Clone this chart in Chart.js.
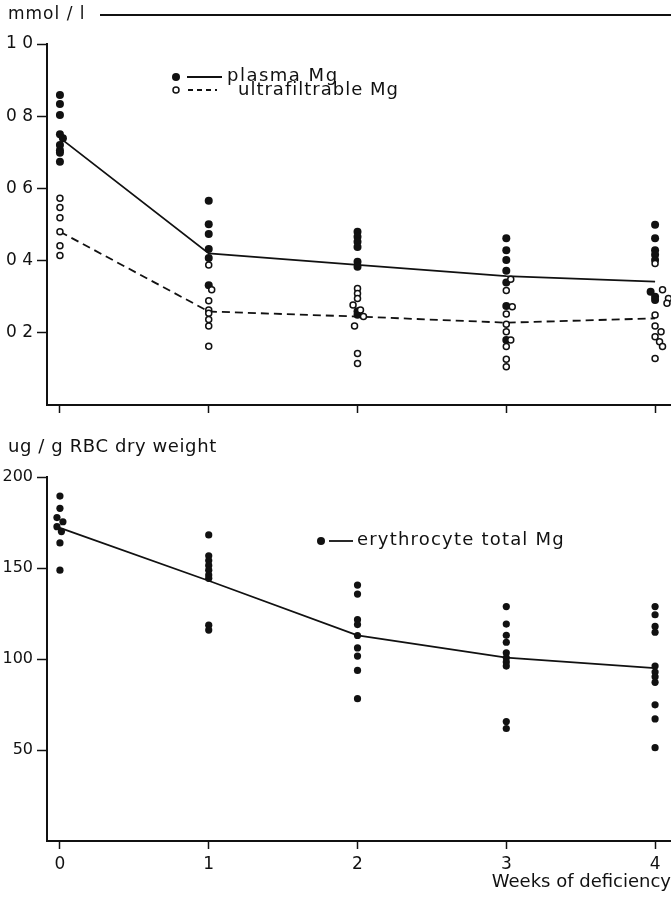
<!DOCTYPE html>
<html>
<head>
<meta charset="utf-8">
<script src="https://cdn.jsdelivr.net/npm/chart.js@4"></script>
<style>
  body { margin: 0; background: #fff; }
  #wrap { position: relative; width: 671px; height: 897px; }
  canvas { position: absolute; left: 0; }
</style>
</head>
<body>
<div id="wrap">
  <canvas id="plasmaChart" width="671" height="425" style="top:0"></canvas>
  <canvas id="rbcChart" width="671" height="472" style="top:425px"></canvas>
</div>
<script>
// weeks on the x axis
var weekTicks = [0, 1, 2, 3, 4];
var weekLabels = ['0', '1', '2', '3', '4'];

// top panel (mmol/l)
var plasmaTickValues = [0.2, 0.4, 0.6, 0.8, 1.0];
var plasmaTickLabels = ['0 2', '0 4', '0 6', '0 8', '1 0'];
var plasmaMean = [0.74, 0.42, 0.388, 0.357, 0.342];
var ultraMean = [0.48, 0.259, 0.245, 0.228, 0.24];

var plasmaWeek = [0, 0, 0, 0, 0.02, 0, 0, 0, 0,
                  1, 1, 1, 1, 1, 1,
                  2, 2, 2, 2, 2, 2, 2, 2,
                  3, 3, 3, 3, 3, 3, 3,
                  4, 4, 4, 4, 4, 3.97, 4, 4];
var plasmaValue = [0.859, 0.834, 0.803, 0.750, 0.739, 0.720, 0.706, 0.699, 0.674,
                   0.566, 0.501, 0.474, 0.432, 0.407, 0.332,
                   0.480, 0.466, 0.452, 0.438, 0.397, 0.383, 0.26, 0.25,
                   0.462, 0.429, 0.402, 0.372, 0.339, 0.274, 0.180,
                   0.499, 0.462, 0.429, 0.416, 0.402, 0.314, 0.300, 0.291];

var ultraWeek = [0, 0, 0, 0, 0, 0,
                 1, 1.02, 1, 1, 1, 1, 1, 1,
                 2, 2, 2, 1.97, 2.02, 2.04, 1.98, 2, 2,
                 3.03, 3, 3.04, 3, 3, 3, 3.03, 3, 3, 3,
                 4, 4.05, 4.09, 4.08, 4, 4, 4.04, 4, 4.03, 4.05, 4];
var ultraValue = [0.573, 0.547, 0.519, 0.480, 0.441, 0.414,
                  0.388, 0.319, 0.289, 0.263, 0.254, 0.237, 0.219, 0.163,
                  0.323, 0.309, 0.295, 0.277, 0.263, 0.245, 0.219, 0.143, 0.115,
                  0.348, 0.317, 0.272, 0.252, 0.224, 0.203, 0.180, 0.162, 0.127, 0.106,
                  0.392, 0.319, 0.295, 0.282, 0.249, 0.219, 0.203, 0.189, 0.175, 0.162, 0.129];

// bottom panel (ug/g RBC dry weight)
var rbcTickValues = [50, 100, 150, 200];
var rbcMean = [172, 143, 113, 100.7, 95];
var rbcWeek = [0, 0, -0.02, 0.02, -0.02, 0.01, 0, 0,
               1, 1, 1, 1, 1, 1, 1, 1, 1,
               2, 2, 2, 2, 2, 2, 2, 2, 2,
               3, 3, 3, 3, 3, 3, 3, 3, 3, 3,
               4, 4, 4, 4, 4, 4, 4, 4, 4, 4, 4];
var rbcValue = [189.5, 182.8, 177.7, 175.4, 172.7, 170.0, 163.8, 148.8,
                168.2, 156.7, 154.1, 151.4, 148.8, 146.1, 144.3, 118.6, 115.9,
                140.6, 135.7, 121.6, 118.9, 112.9, 106.1, 101.6, 93.7, 78.2,
                128.8, 119.2, 113.0, 109.2, 103.4, 100.7, 98.3, 96.1, 65.6, 61.8,
                128.8, 124.3, 117.9, 114.7, 96.1, 92.8, 90.2, 87.2, 74.8, 67.1, 51.3];

var ink = '#111';
Chart.defaults.font.family = '"DejaVu Sans", sans-serif';
Chart.defaults.color = ink;

function pts(xs, ys) {
  return xs.map(function (x, i) { return { x: x, y: ys[i] }; });
}

function drawText(ctx, text, x, y, size, spacing) {
  ctx.save();
  ctx.font = size + 'px "DejaVu Sans"';
  ctx.letterSpacing = (spacing || 0) + 'px';
  ctx.fillStyle = ink;
  ctx.textBaseline = 'middle';
  ctx.textAlign = 'left';
  ctx.fillText(text, x, y);
  ctx.restore();
}

function drawKey(ctx, x, y, r, filled, x1, x2, dash) {
  ctx.save();
  ctx.strokeStyle = ink;
  ctx.fillStyle = filled ? ink : '#fff';
  ctx.lineWidth = 1.5;
  ctx.beginPath();
  ctx.arc(x, y, r, 0, Math.PI * 2);
  ctx.fill();
  if (!filled) ctx.stroke();
  ctx.lineWidth = 1.8;
  ctx.setLineDash(dash || []);
  ctx.beginPath();
  ctx.moveTo(x1, y);
  ctx.lineTo(x2, y);
  ctx.stroke();
  ctx.restore();
}

function axisX(showLabels) {
  return {
    type: 'linear', min: -0.087, max: 4.107,
    afterBuildTicks: function (s) { s.ticks = weekTicks.map(function (v) { return { value: v }; }); },
    afterFit: function (s) { s.height = showLabels ? 56 : 20; },
    ticks: { display: showLabels, callback: function (v, i) { return weekLabels[i]; }, font: { size: 17 }, padding: 5, maxRotation: 0 },
    title: { display: showLabels, text: 'Weeks of deficiency', align: 'end', font: { size: 18 }, padding: { top: 0, bottom: 4 } },
    grid: { drawOnChartArea: false, drawTicks: true, tickLength: 8, tickColor: ink, tickWidth: 1.5 },
    border: { color: ink, width: 2 }
  };
}

var topPlugin = {
  id: 'topText',
  afterDraw: function (chart) {
    var ctx = chart.ctx;
    drawText(ctx, 'mmol / l', 8, 15, 17, 1);
    ctx.save();
    ctx.strokeStyle = ink;
    ctx.lineWidth = 2;
    ctx.beginPath();
    ctx.moveTo(100, 15);
    ctx.lineTo(671, 15);
    ctx.stroke();
    ctx.restore();
    drawKey(ctx, 176, 77, 4, true, 187, 222);
    drawText(ctx, 'plasma Mg', 227, 76, 18, 1.5);
    drawKey(ctx, 176, 90, 3, false, 188, 217, [5, 4]);
    drawText(ctx, 'ultrafiltrable Mg', 238, 90, 18, 1);
  }
};

new Chart(document.getElementById('plasmaChart'), {
  type: 'scatter',
  data: {
    datasets: [
      { label: 'ultrafiltrable Mg', data: pts(ultraWeek, ultraValue), pointRadius: 3, backgroundColor: '#fff', borderColor: ink, borderWidth: 1.5, clip: false },
      { label: 'plasma Mg', data: pts(plasmaWeek, plasmaValue), pointRadius: 4, backgroundColor: ink, borderColor: ink, borderWidth: 0, clip: false },
      { label: 'plasma Mg mean', data: pts(weekTicks, plasmaMean), showLine: true, pointRadius: 0, borderColor: ink, borderWidth: 1.8 },
      { label: 'ultrafiltrable Mg mean', data: pts(weekTicks, ultraMean), showLine: true, pointRadius: 0, borderColor: ink, borderWidth: 1.8, borderDash: [8, 5] }
    ]
  },
  options: {
    responsive: false,
    animation: false,
    layout: { autoPadding: false, padding: { top: 44, left: 0, right: 0, bottom: 0 } },
    plugins: { legend: { display: false }, tooltip: { enabled: false } },
    scales: {
      x: axisX(false),
      y: {
        min: 0, max: 1,
        afterBuildTicks: function (s) { s.ticks = plasmaTickValues.map(function (v) { return { value: v }; }); },
        afterFit: function (s) { s.width = 47; },
        ticks: { callback: function (v, i) { return plasmaTickLabels[i]; }, font: { size: 17 }, padding: 4 },
        grid: { drawOnChartArea: false, drawTicks: true, tickLength: 10, tickColor: ink, tickWidth: 1.5 },
        border: { color: ink, width: 2 }
      }
    }
  },
  plugins: [topPlugin]
});

var rbcPlugin = {
  id: 'rbcText',
  afterDraw: function (chart) {
    var ctx = chart.ctx;
    drawText(ctx, 'ug / g RBC dry weight', 8, 22, 18, 0.6);
    drawKey(ctx, 321, 116, 4, true, 329, 353);
    drawText(ctx, 'erythrocyte total Mg', 357, 115, 18, 1.2);
  }
};

new Chart(document.getElementById('rbcChart'), {
  type: 'scatter',
  data: {
    datasets: [
      { label: 'erythrocyte total Mg', data: pts(rbcWeek, rbcValue), pointRadius: 3.6, backgroundColor: ink, borderColor: ink, borderWidth: 0, clip: false },
      { label: 'erythrocyte total Mg mean', data: pts(weekTicks, rbcMean), showLine: true, pointRadius: 0, borderColor: ink, borderWidth: 1.8 }
    ]
  },
  options: {
    responsive: false,
    animation: false,
    layout: { autoPadding: false, padding: { top: 52, left: 0, right: 0, bottom: 0 } },
    plugins: { legend: { display: false }, tooltip: { enabled: false } },
    scales: {
      x: axisX(true),
      y: {
        min: 0, max: 200,
        afterBuildTicks: function (s) { s.ticks = rbcTickValues.map(function (v) { return { value: v }; }); },
        afterFit: function (s) { s.width = 47; },
        ticks: { font: { size: 16 }, padding: 4 },
        grid: { drawOnChartArea: false, drawTicks: true, tickLength: 10, tickColor: ink, tickWidth: 1.5 },
        border: { color: ink, width: 2 }
      }
    }
  },
  plugins: [rbcPlugin]
});
</script>
</body>
</html>
